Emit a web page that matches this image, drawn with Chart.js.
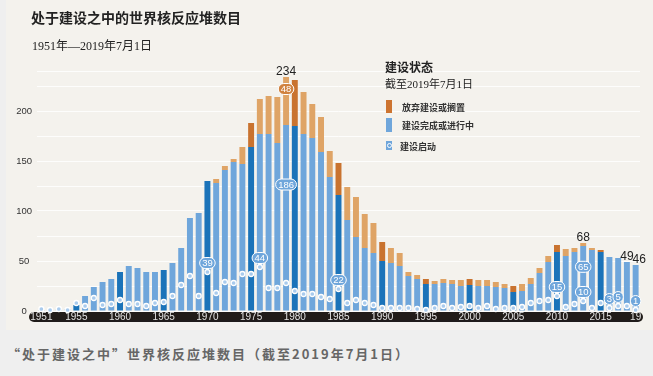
<!DOCTYPE html>
<html>
<head>
<meta charset="utf-8">
<script src="https://cdn.jsdelivr.net/npm/chart.js@4.4.0/dist/chart.umd.min.js"></script>
<style>
  body { margin: 0; width: 653px; height: 376px; background: #efefef; position: relative; overflow: hidden;
         font-family: "Noto Sans CJK SC", sans-serif; }
  #panel { position: absolute; left: 6px; top: 0; width: 647px; height: 330px; background: #f4f2ed; }
  #myChart { position: absolute; left: 0; top: 0; }
  .txt { position: absolute; white-space: nowrap; line-height: 1; color: #222; }
  .serif { font-family: "Liberation Serif", "Noto Sans CJK SC", serif; }
  .swatch { position: absolute; left: 386px; width: 6px; }
</style>
</head>
<body>
<div id="panel"></div>
<canvas id="myChart" width="653" height="330"></canvas>

<div class="txt" style="left:31px; top:10px; font-size:14px; font-weight:bold;">处于建设之中的世界核反应堆数目</div>
<div class="txt serif" style="left:32px; top:40px; font-size:12px;">1951年—2019年7月1日</div>

<!-- legend -->
<div class="txt" style="left:385px; top:61px; font-size:12px; font-weight:bold;">建设状态</div>
<div class="txt serif" style="left:385px; top:79px; font-size:11px;">截至2019年7月1日</div>
<div class="swatch" style="top:100px; height:13px; background:#cd7430;"></div>
<div class="txt" style="left:402px; top:103px; font-size:9px; font-weight:bold; color:#333;">放弃建设或搁置</div>
<div class="swatch" style="top:118px; height:14px; background:#6fa6db;"></div>
<div class="txt" style="left:402px; top:121px; font-size:9px; font-weight:bold; color:#333;">建设完成或进行中</div>
<div class="swatch" style="top:141px; height:9px; background:#6fa6db;">
  <div style="position:absolute; left:1px; top:2px; width:3px; height:3px; border:1px solid #fff; border-radius:50%;"></div>
</div>
<div class="txt" style="left:400px; top:142px; font-size:9px; font-weight:bold; color:#333;">建设启动</div>

<div class="txt" style="left:7px; top:347px; font-size:13px; font-weight:bold; color:#666; letter-spacing:2px;">“处于建设之中”世界核反应堆数目（截至2019年7月1日）</div>

<script>
// categories
var years = [1951, 1952, 1953, 1954, 1955, 1956, 1957, 1958, 1959, 1960,
             1961, 1962, 1963, 1964, 1965, 1966, 1967, 1968, 1969, 1970,
             1971, 1972, 1973, 1974, 1975, 1976, 1977, 1978, 1979, 1980,
             1981, 1982, 1983, 1984, 1985, 1986, 1987, 1988, 1989, 1990,
             1991, 1992, 1993, 1994, 1995, 1996, 1997, 1998, 1999, 2000,
             2001, 2002, 2003, 2004, 2005, 2006, 2007, 2008, 2009, 2010,
             2011, 2012, 2013, 2014, 2015, 2016, 2017, 2018, 2019];

// 建设完成或进行中
var ongoing = [1, 1, 2, 2, 6, 15, 24, 29, 32, 39,
               45, 43, 39, 39, 41, 48, 63, 93, 98, 130,
               128, 141, 149, 147, 164, 177, 177, 168, 186, 185,
               177, 173, 159, 134, 116, 91, 74, 63, 58, 50,
               48, 45, 35, 32, 27, 27, 28, 27, 25, 26,
               25, 25, 24, 23, 19, 20, 27, 38, 49, 59,
               55, 59, 65, 61, 59, 54, 53, 49, 46];

// 放弃建设或搁置
var abandoned = [0, 0, 0, 0, 0, 0, 0, 0, 0, 0,
                 0, 0, 0, 0, 0, 0, 0, 0, 0, 0,
                 4, 4, 3, 17, 24, 35, 38, 46, 48, 46,
                 42, 34, 35, 26, 32, 33, 40, 34, 30, 19,
                 15, 13, 4, 4, 5, 3, 4, 4, 6, 6,
                 6, 6, 5, 4, 6, 7, 6, 5, 6, 7,
                 7, 4, 3, 2, 2, 0, 0, 0, 0];

// 建设启动
var starts = [2, 1, 2, 1, 8, 5, 13, 6, 7, 11,
              7, 7, 5, 8, 9, 15, 26, 35, 15, 39,
              18, 29, 28, 37, 37, 44, 23, 23, 28, 20,
              17, 17, 14, 12, 22, 8, 11, 8, 6, 3,
              3, 3, 3, 2, 1, 3, 5, 3, 4, 5,
              3, 5, 2, 3, 3, 4, 8, 10, 11, 15,
              4, 7, 10, 3, 8, 3, 5, 5, 1];

var yTicks = [0, 50, 100, 150, 200];
var xTickYears = [1951, 1955, 1960, 1965, 1970, 1975, 1980, 1985, 1990, 1995, 2000, 2005, 2010, 2015, 2019];

// which values get a label in the picture
var startLabelYears = [1970, 1976, 1985, 2010, 2013, 2016, 2017, 2019];
var totalLabelYears = [1979, 2013, 2018, 2019];
var ongoingLabelYears = [1979, 2013];
var abandonedLabelYears = [1979];

var LIGHT_BLUE = '#6fa6db';
var DARK_BLUE = '#1b73b9';
var LIGHT_ORANGE = '#dfa466';
var DARK_ORANGE = '#c9732f';

// small rounded badge with white text
function pill(ctx, x, y, text, fill) {
  ctx.save();
  ctx.font = '9.5px "Liberation Sans", Arial, sans-serif';
  var w = Math.max(ctx.measureText(text).width + 5, 8);
  var h = 11;
  var r = Math.min(h, w) / 2;
  var l = x - w / 2, t = y - h / 2;
  ctx.beginPath();
  ctx.moveTo(l + r, t);
  ctx.lineTo(l + w - r, t);
  ctx.arc(l + w - r, t + r, r, -Math.PI / 2, 0);
  ctx.lineTo(l + w, t + h - r);
  ctx.arc(l + w - r, t + h - r, r, 0, Math.PI / 2);
  ctx.lineTo(l + r, t + h);
  ctx.arc(l + r, t + h - r, r, Math.PI / 2, Math.PI);
  ctx.lineTo(l, t + r);
  ctx.arc(l + r, t + r, r, Math.PI, Math.PI * 1.5);
  ctx.closePath();
  ctx.fillStyle = fill;
  ctx.fill();
  ctx.strokeStyle = '#ffffff';
  ctx.lineWidth = 1;
  ctx.stroke();
  ctx.fillStyle = '#ffffff';
  ctx.textAlign = 'center';
  ctx.textBaseline = 'middle';
  ctx.fillText(text, x, y + 0.5);
  ctx.restore();
}

// black strip behind the year labels
var axisBand = {
  id: 'axisBand',
  beforeDraw: function(chart) {
    var ctx = chart.ctx;
    var a = chart.chartArea;
    var l = a.left - 8, r = a.right + 3, t = a.bottom + 1, b = a.bottom + 11;
    var rad = (b - t) / 2;
    ctx.save();
    ctx.fillStyle = '#211c19';
    ctx.beginPath();
    ctx.moveTo(l + rad, t);
    ctx.lineTo(r - rad, t);
    ctx.arc(r - rad, t + rad, rad, -Math.PI / 2, Math.PI / 2);
    ctx.lineTo(l + rad, b);
    ctx.arc(l + rad, t + rad, rad, Math.PI / 2, Math.PI * 1.5);
    ctx.closePath();
    ctx.fill();
    ctx.restore();
  }
};

// numbers written on the bars
var annotate = {
  id: 'annotate',
  afterDraw: function(chart) {
    var ctx = chart.ctx;
    var xs = chart.scales.x, ys = chart.scales.y;
    var startMeta = chart.getDatasetMeta(2);

    startLabelYears.forEach(function(yr) {
      var i = years.indexOf(yr);
      var p = startMeta.data[i];
      pill(ctx, p.x, p.y - 9, String(starts[i]), LIGHT_BLUE);
    });

    ongoingLabelYears.forEach(function(yr) {
      var i = years.indexOf(yr);
      pill(ctx, xs.getPixelForValue(i), ys.getPixelForValue(ongoing[i] * 0.68), String(ongoing[i]), LIGHT_BLUE);
    });

    abandonedLabelYears.forEach(function(yr) {
      var i = years.indexOf(yr);
      var top = ys.getPixelForValue(ongoing[i] + abandoned[i]);
      pill(ctx, xs.getPixelForValue(i), top + 12, String(abandoned[i]), '#d0823f');
    });

    ctx.save();
    ctx.font = '12px "Liberation Sans", Arial, sans-serif';
    ctx.fillStyle = '#222';
    ctx.textAlign = 'center';
    ctx.textBaseline = 'alphabetic';
    totalLabelYears.forEach(function(yr) {
      var i = years.indexOf(yr);
      var total = ongoing[i] + abandoned[i];
      var shift = totalLabelYears.indexOf(yr - 1) >= 0 ? 3.5 : 0;
      ctx.fillText(String(total), xs.getPixelForValue(i) + shift, ys.getPixelForValue(total) - 2);
    });
    ctx.restore();
  }
};

window.onload = function() {
  var ctx = document.getElementById('myChart').getContext('2d');
  Chart.defaults.font.family = '"Liberation Sans", Arial, sans-serif';

  var blueColors = years.map(function(y) { return y % 5 === 0 ? DARK_BLUE : LIGHT_BLUE; });
  var orangeColors = years.map(function(y) { return y % 5 === 0 ? DARK_ORANGE : LIGHT_ORANGE; });

  var myChart = new Chart(ctx, {
    type: 'bar',
    data: {
      labels: years.map(String),
      datasets: [{
        label: '建设完成或进行中',
        data: ongoing,
        backgroundColor: blueColors,
        barPercentage: 0.68,
        categoryPercentage: 1.0,
        stack: 'total',
        order: 2
      }, {
        label: '放弃建设或搁置',
        data: abandoned,
        backgroundColor: orangeColors,
        barPercentage: 0.68,
        categoryPercentage: 1.0,
        stack: 'total',
        order: 2
      }, {
        type: 'line',
        label: '建设启动',
        data: starts,
        stack: 'starts',
        order: 0,
        showLine: false,
        clip: false,
        pointRadius: 2.5,
        pointBorderWidth: 1.3,
        pointBorderColor: '#ffffff',
        pointBackgroundColor: '#a9cbed'
      }]
    },
    options: {
      responsive: false,
      animation: false,
      layout: { padding: { left: 0, right: 13, top: 71, bottom: 0 } },
      plugins: {
        legend: { display: false },
        tooltip: { enabled: false }
      },
      scales: {
        x: {
          stacked: true,
          grid: { display: false, drawTicks: false },
          border: { display: false },
          ticks: {
            autoSkip: false,
            maxRotation: 0,
            padding: 0,
            color: '#e4e4e4',
            font: { size: 10 },
            callback: function(value, index) {
              var yr = years[index];
              if (xTickYears.indexOf(yr) < 0) return '';
              return yr === 2019 ? '19' : String(yr);
            }
          },
          afterFit: function(scale) { scale.height = 19; }
        },
        y: {
          stacked: true,
          min: 0,
          max: 240,
          z: 1,
          border: { display: false },
          grid: { color: 'rgba(255,255,255,0.8)', lineWidth: 1, drawTicks: false },
          ticks: {
            stepSize: 25,
            padding: 5,
            crossAlign: 'center',
            color: '#333',
            font: { size: 9.5 },
            callback: function(value) {
              return yTicks.indexOf(value) >= 0 ? String(value) : '';
            }
          },
          afterFit: function(scale) { scale.width = 37; }
        }
      }
    },
    plugins: [axisBand, annotate]
  });
};
</script>
</body>
</html>
